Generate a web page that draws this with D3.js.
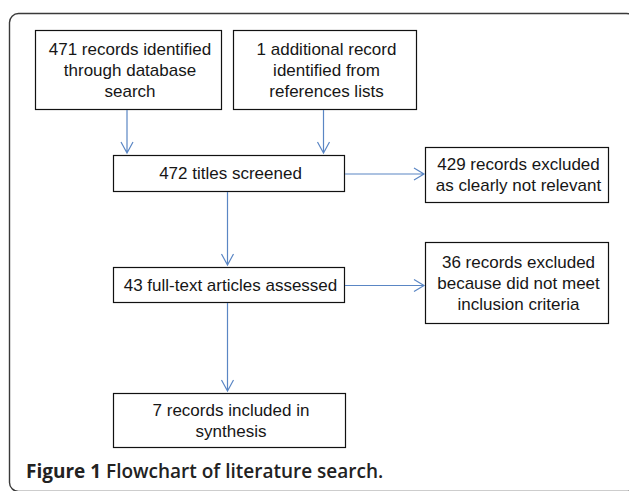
<!DOCTYPE html>
<html>
<head>
<meta charset="utf-8">
<script src="https://cdn.jsdelivr.net/npm/d3@7"></script>
<style>
  body { margin: 0; background: #fff; }
  svg { display: block; }
</style>
</head>
<body>
<div id="container"></div>
<script>
/* DATA */
const nodeIds = ["db", "refs", "screened", "fulltext", "included", "excl1", "excl2"];
const nodeLabels = [
  ["471 records identified", "through database", "search"],
  ["1 additional record", "identified from", "references lists"],
  ["472 titles screened"],
  ["43 full-text articles assessed"],
  ["7 records included in", "synthesis"],
  ["429 records excluded", "as clearly not relevant"],
  ["36 records excluded", "because did not meet", "inclusion criteria"]
];
const linkSources = ["db", "refs", "screened", "screened", "fulltext", "fulltext"];
const linkTargets = ["screened", "screened", "excl1", "fulltext", "excl2", "included"];
const captionBold = "Figure 1";
const captionText = "Flowchart of literature search.";

/* CONSTANTS AND GLOBALS */
const width = 629, height = 491;

// box layout (left, top, width, height) for each node
const layout = {
  db:       [35, 30, 186, 79],
  refs:     [233, 30, 183, 79],
  screened: [113, 155, 231, 36],
  fulltext: [113, 267, 231, 35],
  included: [113, 393, 232, 54],
  excl1:    [425, 147, 183, 55],
  excl2:    [425, 242, 183, 81]
};

const nodes = nodeIds.map((id, i) => ({ id, lines: nodeLabels[i] }));
const links = linkSources.map((s, i) => ({ source: s, target: linkTargets[i] }));

const box = d3.scaleOrdinal().domain(nodeIds).range(nodeIds.map(id => layout[id]));

const svg = d3.select("#container")
  .append("svg")
  .attr("width", width)
  .attr("height", height);

// outer rounded frame (runs off the right and bottom edge)
svg.append("rect")
  .attr("x", 9.5)
  .attr("y", 13.5)
  .attr("width", 626)
  .attr("height", 478)
  .attr("rx", 9)
  .attr("fill", "none")
  .attr("stroke", "#3a3a3a")
  .attr("stroke-width", 1.4);

// boxes
const g = svg.selectAll(".node")
  .data(nodes)
  .join("g")
  .attr("class", "node");

g.append("rect")
  .attr("x", d => box(d.id)[0] + 0.5)
  .attr("y", d => box(d.id)[1] + 0.5)
  .attr("width", d => box(d.id)[2])
  .attr("height", d => box(d.id)[3])
  .attr("fill", "#fff")
  .attr("stroke", "#111")
  .attr("stroke-width", 1.2);

const lineH = 21;
g.append("text")
  .attr("text-anchor", "middle")
  .attr("font-family", "Liberation Sans, Arial, sans-serif")
  .attr("font-size", 17)
  .attr("fill", "#161616")
  .each(function(d) {
    const [x, y, w, h] = box(d.id);
    const n = d.lines.length;
    const y0 = y + h / 2 - (n - 1) * lineH / 2 + 6;
    d3.select(this).selectAll("tspan")
      .data(d.lines)
      .join("tspan")
      .attr("x", x + w / 2 + 2)
      .attr("y", (t, i) => y0 + i * lineH)
      .text(t => t);
  });

// arrows
const arrowColor = "#5a86c4";
function arrowPath(l) {
  const s = box(l.source), t = box(l.target);
  const [sx, sy, sw, sh] = s;
  const [tx, ty] = t;
  let x1, y1, x2, y2, head;
  if (tx >= sx + sw) {
    // horizontal to the right
    y1 = y2 = sy + sh / 2 + 1;
    x1 = sx + sw + 1;
    x2 = tx - 1;
    head = `M${x2 - 10},${y2 - 6}L${x2},${y2}L${x2 - 10},${y2 + 6}`;
  } else {
    // vertical downwards
    x1 = x2 = sx + sw / 2 - 1;
    y1 = sy + sh + 1;
    y2 = ty - 2;
    head = `M${x2 - 6},${y2 - 11}L${x2},${y2}L${x2 + 6},${y2 - 11}`;
  }
  return `M${x1},${y1}L${x2},${y2}` + head;
}

svg.selectAll(".link")
  .data(links)
  .join("path")
  .attr("class", "link")
  .attr("d", arrowPath)
  .attr("fill", "none")
  .attr("stroke", arrowColor)
  .attr("stroke-width", 1.2);

// caption
const cap = svg.append("text")
  .attr("x", 26)
  .attr("y", 478)
  .attr("font-family", "Open Sans, sans-serif")
  .attr("font-size", 19)
  .attr("fill", "#222");
cap.append("tspan").attr("font-weight", 700).text(captionBold + " ");
cap.append("tspan").attr("font-weight", 600).text(captionText);
</script>
</body>
</html>
